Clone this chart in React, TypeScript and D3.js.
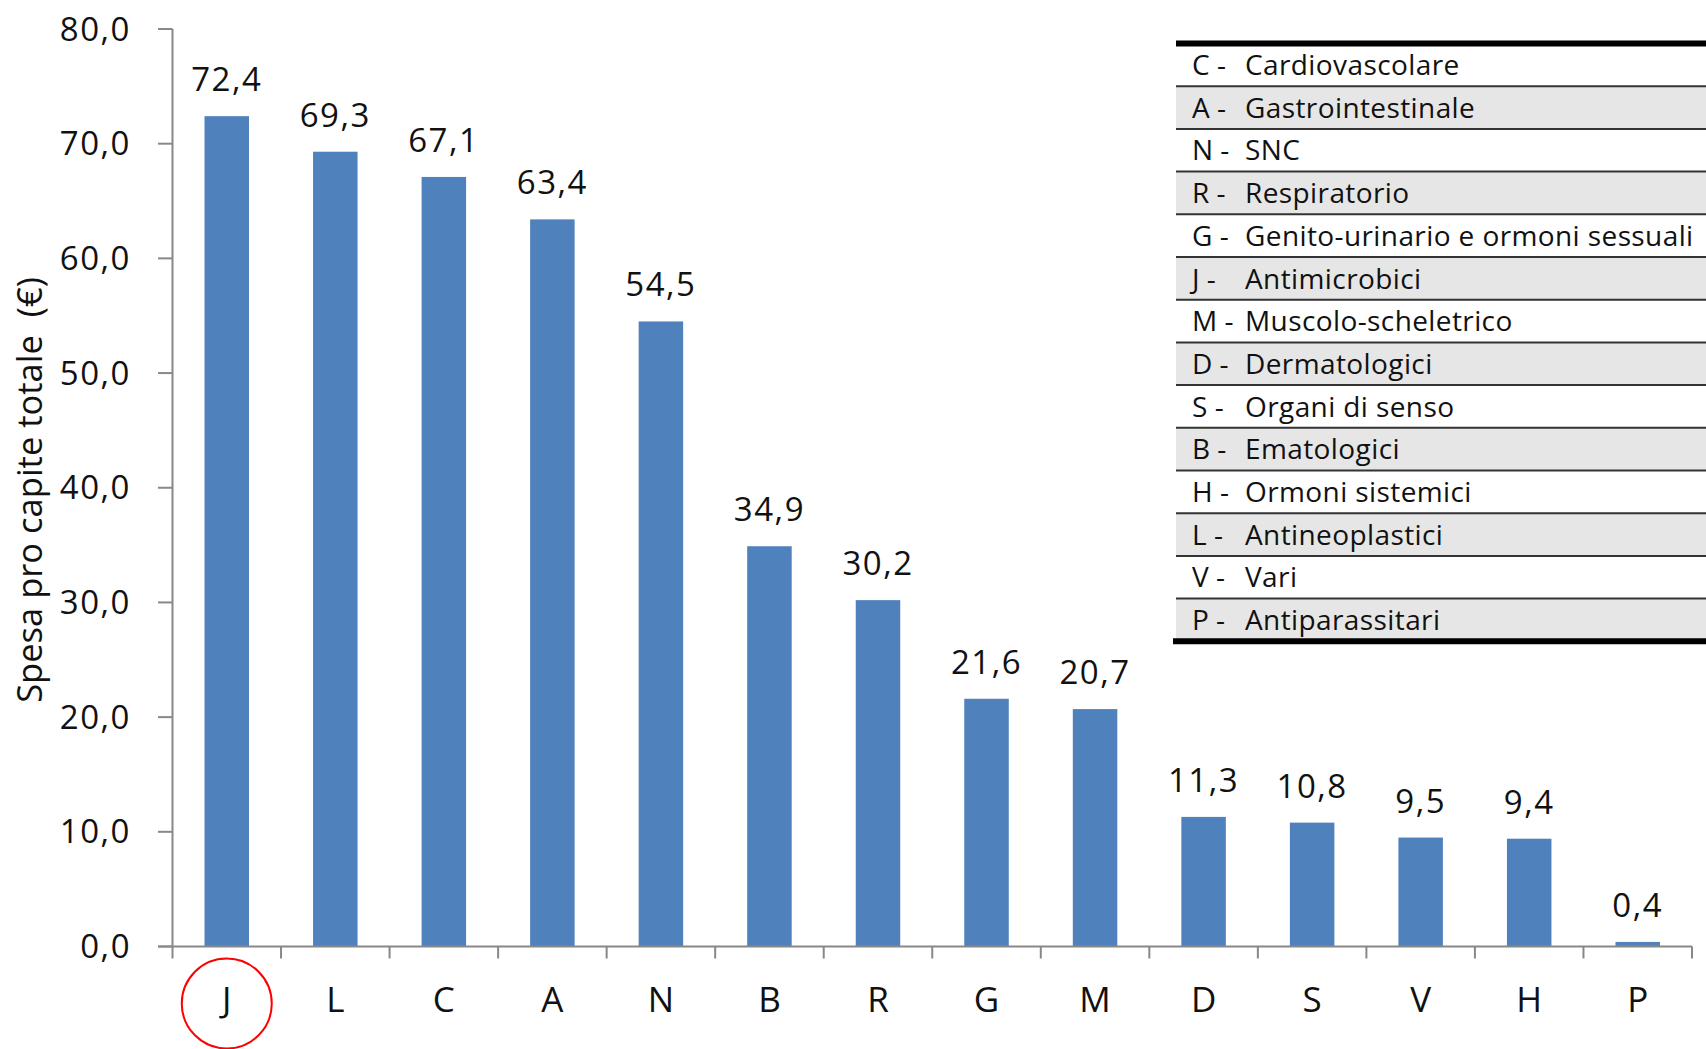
import * as d3 from 'd3';

const categories = ['J', 'L', 'C', 'A', 'N', 'B', 'R', 'G', 'M', 'D', 'S', 'V', 'H', 'P'];
const values = [72.4, 69.3, 67.1, 63.4, 54.5, 34.9, 30.2, 21.6, 20.7, 11.3, 10.8, 9.5, 9.4, 0.4];
const yTicks = [0, 10, 20, 30, 40, 50, 60, 70, 80];
const legendCodes = ['C', 'A', 'N', 'R', 'G', 'J', 'M', 'D', 'S', 'B', 'H', 'L', 'V', 'P'];
const legendNames = [
  'Cardiovascolare',
  'Gastrointestinale',
  'SNC',
  'Respiratorio',
  'Genito-urinario e ormoni sessuali',
  'Antimicrobici',
  'Muscolo-scheletrico',
  'Dermatologici',
  'Organi di senso',
  'Ematologici',
  'Ormoni sistemici',
  'Antineoplastici',
  'Vari',
  'Antiparassitari',
];
const highlighted = 'J';

const W = 1706;
const H = 1049;
const FONT = '"Open Sans", "DejaVu Sans", sans-serif';
const BAR = '#4f81bd';
const AXIS = '#888888';

const fmt = (v: number) => d3.format('.1f')(v).replace('.', ',');

export default function App() {
  const x = d3.scaleBand<string>().domain(categories).range([172.5, 1692]).padding(0);
  const y = d3.scaleLinear().domain([0, 80]).range([946.5, 29]);
  const bw = x.bandwidth() * 0.41;
  const base = y(0);

  // legend table geometry
  const lgX0 = 1176;
  const lgTop = 43.5;
  const rowH = 42.7;

  return (
    <svg
      width={W}
      height={H}
      style={{ position: 'absolute', left: 0, top: 0, background: '#fff', display: 'block' }}
      fontFamily={FONT}
    >
      <rect x={0} y={0} width={W} height={H} fill="#fff" />

      {/* bars */}
      {categories.map((c, i) => (
        <rect
          key={c}
          x={(x(c) ?? 0) + (x.bandwidth() - bw) / 2}
          y={y(values[i])}
          width={bw}
          height={base - y(values[i])}
          fill={BAR}
        />
      ))}

      {/* value labels */}
      {categories.map((c, i) => (
        <text
          key={'v' + c}
          x={(x(c) ?? 0) + x.bandwidth() / 2}
          y={y(values[i]) - 25}
          textAnchor="middle"
          fontSize={33}
          letterSpacing={1.5}
          fill="#111"
        >
          {fmt(values[i])}
        </text>
      ))}

      {/* y axis */}
      <line x1={172.5} x2={172.5} y1={y(80)} y2={base} stroke={AXIS} strokeWidth={2} />
      {yTicks.map((t) => (
        <g key={'yt' + t}>
          <line x1={158} x2={172.5} y1={y(t)} y2={y(t)} stroke={AXIS} strokeWidth={2} />
          <text x={131} y={y(t) + 11.5} textAnchor="end" fontSize={33} letterSpacing={1.5} fill="#111">
            {fmt(t)}
          </text>
        </g>
      ))}

      {/* x axis */}
      <line x1={158} x2={1692} y1={base} y2={base} stroke={AXIS} strokeWidth={2} />
      {[...categories.map((c) => x(c) ?? 0), 1692].map((px, i) => (
        <line key={'xt' + i} x1={px} x2={px} y1={base} y2={base + 12} stroke={AXIS} strokeWidth={2} />
      ))}
      {categories.map((c) => (
        <text
          key={'xl' + c}
          x={(x(c) ?? 0) + x.bandwidth() / 2}
          y={1012}
          textAnchor="middle"
          fontSize={35}
          fill="#111"
        >
          {c}
        </text>
      ))}

      {/* highlight circle */}
      <ellipse
        cx={(x(highlighted) ?? 0) + x.bandwidth() / 2}
        cy={1003.5}
        rx={45}
        ry={45}
        fill="none"
        stroke="#ff0000"
        strokeWidth={2}
      />

      {/* y title */}
      <text
        transform={`translate(42, 490) rotate(-90)`}
        textAnchor="middle"
        fontSize={34.5}
        fill="#111"
        style={{ whiteSpace: 'pre' }}
      >
        {'Spesa pro capite totale  (€)'}
      </text>

      {/* legend table */}
      {legendCodes.map((code, i) => (
        <g key={'lg' + code}>
          {i % 2 === 1 && (
            <rect x={lgX0} y={lgTop + i * rowH} width={W - lgX0} height={rowH} fill="#e6e6e6" />
          )}
          <text x={1192} y={lgTop + i * rowH + 31.5} fontSize={28} fill="#111">
            {code + ' -'}
          </text>
          <text x={1245} y={lgTop + i * rowH + 31.5} fontSize={28} letterSpacing={0.4} fill="#111">
            {legendNames[i]}
          </text>
        </g>
      ))}
      {legendCodes.slice(1).map((_, i) => (
        <line
          key={'lr' + i}
          x1={lgX0}
          x2={W}
          y1={lgTop + (i + 1) * rowH}
          y2={lgTop + (i + 1) * rowH}
          stroke="#333"
          strokeWidth={2}
        />
      ))}
      <line x1={lgX0} x2={W} y1={lgTop} y2={lgTop} stroke="#000" strokeWidth={6} />
      <line
        x1={lgX0 - 3}
        x2={W}
        y1={lgTop + legendCodes.length * rowH}
        y2={lgTop + legendCodes.length * rowH}
        stroke="#000"
        strokeWidth={6}
      />
    </svg>
  );
}
